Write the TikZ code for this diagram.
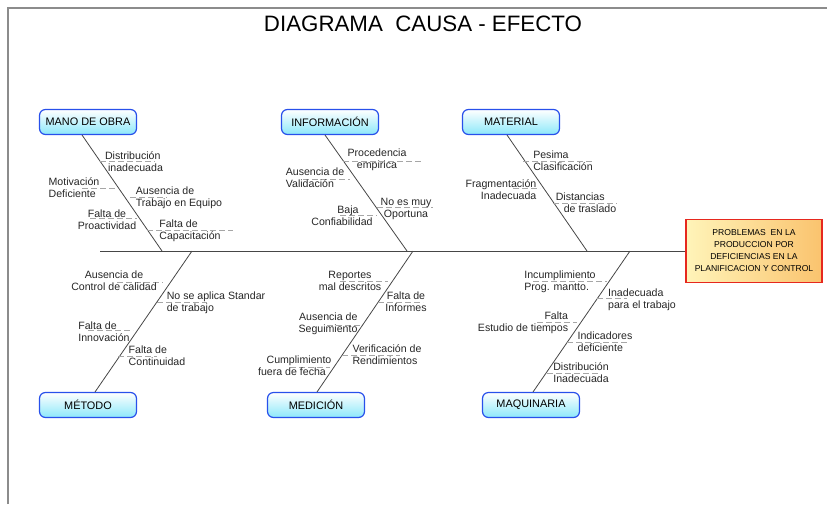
\documentclass[tikz,border=0pt]{standalone}
\usepackage{fontspec}
\setmainfont{Liberation Sans}
\definecolor{catblue}{RGB}{40,80,235}
\definecolor{catcyan}{RGB}{140,232,250}
\definecolor{bonegray}{RGB}{70,70,70}
\definecolor{framegray}{RGB}{140,140,140}
\definecolor{effred}{RGB}{230,40,30}
\definecolor{effyel}{RGB}{255,244,185}
\definecolor{efforg}{RGB}{250,195,110}
\begin{document}
\begin{tikzpicture}[x=1pt,y=-1pt,
  cat/.style={draw=catblue, line width=1.2pt, rounded corners=6pt, top color=white, bottom color=catcyan,
    minimum width=97pt, minimum height=25pt, font=\fontsize{10.9}{12}\selectfont, inner sep=0},
  bone/.style={draw=bonegray, line width=0.8pt},
  lbl/.style={font=\fontsize{10.6}{12.2}\selectfont, inner sep=0, text=black!85},
  dsh/.style={draw=gray!70, line width=0.6pt, dash pattern=on 6pt off 3pt},
]
\useasboundingbox (0,0) rectangle (827,504);
\draw[framegray, line width=1.4pt] (8,504) -- (8,8) -- (827,8);

\node[font=\fontsize{22.3}{26}\selectfont] (title) at (423,24) {DIAGRAMA\ \ CAUSA - EFECTO};

% effect box
\node[draw=effred, line width=1.2pt, left color=effyel, right color=efforg,
  minimum width=136pt, minimum height=63pt, align=center, inner sep=0,
  font=\fontsize{8.6}{12}\selectfont] (eff) at (754,251)
  {PROBLEMAS\ \ EN LA\\PRODUCCION POR\\DEFICIENCIAS EN LA\\PLANIFICACION Y CONTROL};

% category boxes
\node[cat] (mano) at (88,122) {MANO DE OBRA};
\node[cat] (info) at (330,122) {INFORMACIÓN};
\node[cat] (mat) at (511,122) {MATERIAL};
\node[cat] (met) at (88,405) {MÉTODO};
\node[cat] (med) at (316,405) {MEDICIÓN};
\node[cat] (maq) at (531,405) {MAQUINARIA};

% spine
\coordinate (spL) at (100,251);
\draw[bone, line width=1pt] (spL) -- (eff.west);

% bones
\coordinate (manoA) at (82,135);  \coordinate (manoB) at (162,251);
\coordinate (infoA) at (325,135); \coordinate (infoB) at (407,251);
\coordinate (matA) at (507,135);  \coordinate (matB) at (587,251);
\coordinate (metA) at (192,251);  \coordinate (metB) at (95,392);
\coordinate (medA) at (413,251);  \coordinate (medB) at (317,392);
\coordinate (maqA) at (630,251);  \coordinate (maqB) at (533,392);
\draw[bone] (manoA) -- (manoB);
\draw[bone] (infoA) -- (infoB);
\draw[bone] (matA) -- (matB);
\draw[bone] (metA) -- (metB);
\draw[bone] (medA) -- (medB);
\draw[bone] (maqA) -- (maqB);

% dashed ticks
\foreach \xa/\xb/\yy in {100/155/161, 82/118/188, 130/167/197, 90/137/218, 147/233/230,
  343/422/161, 303/350/179, 377/433/207, 340/377/215,
  523/593/161, 513/540/188, 553/617/203,
  117/163/282, 157/207/302, 88/133/330, 118/157/356,
  340/388/281, 378/423/302, 327/362/325, 342/400/355, 290/330/367,
  533/607/281, 597/627/298, 537/577/322, 567/627/342, 547/600/373}
  \draw[dsh] (\xa,\yy) -- (\xb,\yy);

% labels: mano de obra
\node[lbl, align=left] (m1) at (134,162) {Distribución\\\hspace*{3pt}inadecuada};
\node[lbl, align=left] (m2) at (74,188) {Motivación\\Deficiente};
\node[lbl, align=left] (m3) at (179,198) {Ausencia de\\Trabajo en Equipo};
\node[lbl, align=center] (m4) at (107,220) {Falta de\\Proactividad};
\node[lbl, align=left] (m5) at (190,231) {Falta de\\Capacitación};
% informacion
\node[lbl, align=center] (i1) at (377,160) {Procedencia\\empirica};
\node[lbl, align=left] (i2) at (315,178) {Ausencia de\\Validación};
\node[lbl, align=center] (i3) at (406,209) {No es muy\\Oportuna};
\node[lbl, align=center] (i4) at (342,216) {\hspace*{12pt}Baja\\Confiabilidad};
% material
\node[lbl, align=left] (t1) at (563,161) {Pesima\\Clasificación};
\node[lbl, align=right] (t2) at (501,190) {Fragmentación\\Inadecuada};
\node[lbl, align=left] (t3) at (586,203) {Distancias\\\hspace*{8pt}de traslado};
% metodo
\node[lbl, align=center] (e1) at (114,281) {Ausencia de\\Control de calidad};
\node[lbl, align=left] (e2) at (216,303) {No se aplica Standar\\de trabajo};
\node[lbl, align=left] (e3) at (104,332) {Falta de\\Innovación};
\node[lbl, align=left] (e4) at (157,356) {Falta de\\Continuidad};
% medicion
\node[lbl, align=center] (d1) at (350,281) {Reportes\\mal descritos};
\node[lbl, align=center] (d2) at (406,302) {Falta de\\Informes};
\node[lbl, align=right] (d3) at (328,324) {Ausencia de\\Seguimiento};
\node[lbl, align=left] (d4) at (387,355) {Verificación de\\Rendimientos};
\node[lbl, align=center] (d5) at (292,366) {\hspace*{14pt}Cumplimiento\\fuera de fecha};
% maquinaria
\node[lbl, align=left] (q1) at (560,282) {Incumplimiento\\Prog. mantto.};
\node[lbl, align=left] (q2) at (642,300) {Inadecuada\\para el trabajo};
\node[lbl, align=right] (q3) at (523,323) {Falta\\Estudio de tiempos};
\node[lbl, align=left] (q4) at (605,342) {Indicadores\\deficiente};
\node[lbl, align=left] (q5) at (581,373) {Distribución\\Inadecuada};
\end{tikzpicture}
\end{document}
